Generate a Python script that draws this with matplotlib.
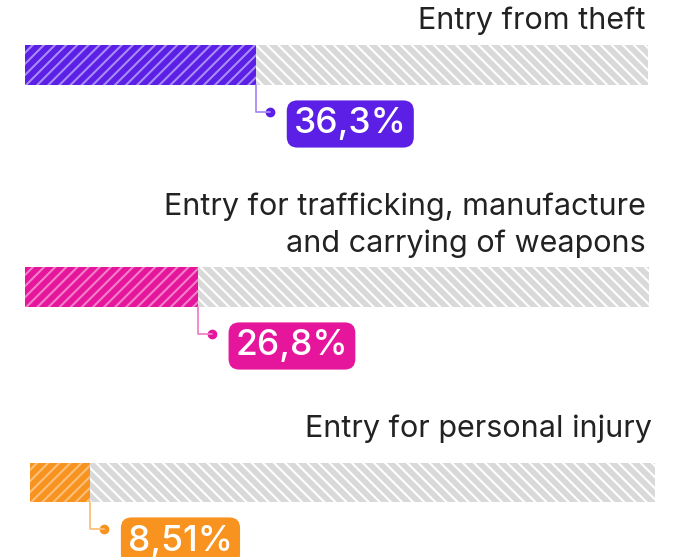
import matplotlib
matplotlib.use('Agg')
import matplotlib.pyplot as plt
from matplotlib.transforms import offset_copy

plt.rcParams['font.family'] = ['Inter', 'DejaVu Sans']
plt.rcParams['hatch.linewidth'] = 1.5

# data
categories = ['Entry from theft',
              'Entry for trafficking, manufacture\nand carrying of weapons',
              'Entry for personal injury']
values = [36.3, 26.8, 8.51]
value_labels = ['36,3%', '26,8%', '8,51%']
colors = ['#5b1fe6', '#e5169b', '#f7931e']
hatch_colors = ['#a88cf6', '#f27fca', '#fcc07c']

track_start = -1.2  # track begins a little before zero

# bar rows in pixels: left, right, top, bottom, label gap
rows = [(25, 648, 45, 85, 10), (25, 649, 267, 307, 9), (30, 655, 463, 502, 20)]

W, H = 676, 557
fig = plt.figure(figsize=(W / 100, H / 100), dpi=100)
px = 0.72  # points per pixel

for i, (cat, val, lab, col, hcol) in enumerate(zip(categories, values, value_labels, colors, hatch_colors)):
    l, r, t, b, gap = rows[i]
    ax = fig.add_axes([l / W, 1 - b / H, (r - l) / W, (b - t) / H])
    ax.set_xlim(track_start, 100)
    ax.set_ylim(0, 1)
    ax.axis('off')

    # background track
    ax.barh(0.5, 100 - track_start, left=track_start, height=1, color='#d9d9d9',
            edgecolor='white', hatch='\\\\\\', linewidth=0)
    # value bar
    ax.barh(0.5, val - track_start, left=track_start, height=1, color=col,
            edgecolor=hcol, hatch='///', linewidth=0)

    # category label
    ax.annotate(cat, xy=(1, 1), xycoords='axes fraction', xytext=(-3 * px, gap * px),
                textcoords='offset points', ha='right', va='bottom',
                fontsize=22, color='#222222', linespacing=1.36)

    # connector line and dot
    ax.annotate('', xy=(val, 0), xytext=(14 * px, -27 * px), textcoords='offset points',
                arrowprops=dict(arrowstyle='-', color=hcol, lw=1.3,
                                connectionstyle='angle,angleA=0,angleB=90,rad=0',
                                shrinkA=0, shrinkB=0))
    tr = offset_copy(ax.transData, fig=fig, x=14 * px, y=-27 * px, units='points')
    ax.plot([val], [0], 'o', color=col, markersize=6, transform=tr, clip_on=False)

    # value box
    ax.annotate(lab, xy=(val, 0), xytext=(38 * px, -39 * px), textcoords='offset points',
                ha='left', va='center', fontsize=25.5, color='white', fontweight='medium',
                bbox=dict(boxstyle='round,pad=0.2,rounding_size=0.3', fc=col, ec='none'))

fig.savefig('out.png', dpi=100, facecolor='white')
